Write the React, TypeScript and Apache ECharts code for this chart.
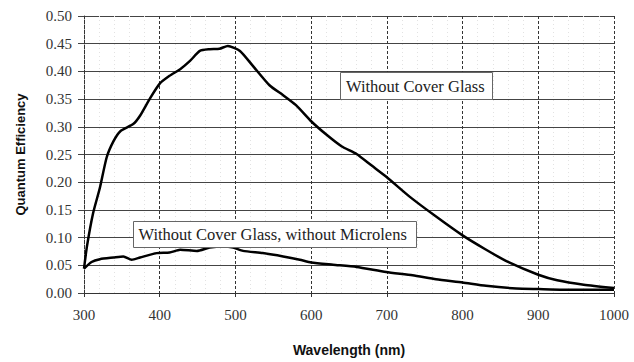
import React, { useEffect, useRef } from "react";
import * as echarts from "echarts";

const coverWavelengths = [300, 304, 312, 321, 330, 339, 348, 365, 374, 387, 400, 413, 427, 440, 453, 466, 479, 490, 506, 523, 545, 563, 580, 600, 620, 640, 660, 680, 700, 730, 765, 800, 830, 860, 900, 925, 960, 1000];
const coverValues = [0.044, 0.085, 0.144, 0.19, 0.245, 0.274, 0.292, 0.305, 0.32, 0.351, 0.378, 0.392, 0.404, 0.419, 0.437, 0.44, 0.441, 0.446, 0.437, 0.41, 0.375, 0.357, 0.339, 0.31, 0.286, 0.265, 0.251, 0.23, 0.209, 0.174, 0.138, 0.104, 0.079, 0.056, 0.033, 0.023, 0.015, 0.009];

const microWavelengths = [300, 310, 321, 339, 352, 363, 374, 396, 413, 427, 449, 466, 484, 497, 510, 536, 563, 585, 600, 629, 660, 699, 734, 765, 800, 831, 871, 900, 932, 1000];
const microValues = [0.044, 0.056, 0.061, 0.064, 0.066, 0.06, 0.064, 0.072, 0.073, 0.078, 0.076, 0.082, 0.084, 0.082, 0.076, 0.072, 0.066, 0.06, 0.055, 0.051, 0.047, 0.038, 0.032, 0.025, 0.019, 0.013, 0.008, 0.007, 0.006, 0.006];

const seriesNames = ["Without Cover Glass", "Without Cover Glass, without Microlens"];
const xTitle = "Wavelength (nm)";
const yTitle = "Quantum Efficiency";

export default function App() {
  const ref = useRef<HTMLDivElement>(null);
  useEffect(() => {
    if (!ref.current) return;
    const chart = echarts.init(ref.current, null, { renderer: "svg" });
    const serif = "Liberation Serif";
    const sans = "Liberation Sans";
    const tickRich = { t: { fontFamily: serif, fontSize: 15, color: "#333" } };
    chart.setOption({
      animation: false,
      backgroundColor: "#fff",
      grid: { left: 84, right: 20, top: 16, bottom: 64 },
      xAxis: {
        type: "value",
        min: 300,
        max: 1000,
        interval: 100,
        name: xTitle,
        nameLocation: "middle",
        nameGap: 50,
        nameTextStyle: { fontFamily: sans, fontWeight: "bold", fontSize: 14, color: "#111" },
        axisLine: { show: true, lineStyle: { color: "#333", width: 1 } },
        axisTick: { show: true, length: 5, lineStyle: { color: "#333", type: "dashed" } },
        axisLabel: {
          fontFamily: serif,
          fontSize: 15,
          color: "#333",
          margin: 14,
          rich: tickRich,
          formatter: (v: number) => "{t|" + String(v) + "}",
        },
        splitLine: { show: true, lineStyle: { color: "#333", type: [3, 2], width: 1 } },
        minorTick: { show: false, splitNumber: 5 },
        minorSplitLine: { show: true, lineStyle: { color: "#e2e2e2", type: [1, 3], width: 1 } },
      },
      yAxis: {
        type: "value",
        min: 0,
        max: 0.5,
        interval: 0.05,
        name: yTitle,
        nameLocation: "middle",
        nameGap: 57,
        nameTextStyle: { fontFamily: sans, fontWeight: "bold", fontSize: 13, color: "#111" },
        axisLine: { show: true, lineStyle: { color: "#333", type: [3, 2] } },
        axisTick: { show: true, length: 6, lineStyle: { color: "#444" } },
        axisLabel: {
          fontFamily: serif,
          fontSize: 15,
          color: "#333",
          margin: 12,
          rich: tickRich,
          formatter: (v: number) => "{t|" + v.toFixed(2) + "}",
        },
        splitLine: { show: true, lineStyle: { color: "#444", width: 1 } },
      },
      series: [
        {
          name: seriesNames[0],
          type: "line",
          data: coverWavelengths.map((w, i) => [w, coverValues[i]]),
          showSymbol: false,
          smooth: 0.2,
          lineStyle: { color: "#000", width: 2.5 },
        },
        {
          name: seriesNames[1],
          type: "line",
          data: microWavelengths.map((w, i) => [w, microValues[i]]),
          showSymbol: false,
          smooth: 0.2,
          lineStyle: { color: "#000", width: 2.5 },
        },
      ],
      graphic: [
        {
          type: "rect",
          shape: { x: 340.5, y: 72.5, width: 152, height: 27 },
          style: { fill: "#fff", stroke: "#666", lineWidth: 1 },
          z: 100,
        },
        {
          type: "text",
          x: 346,
          y: 86,
          style: {
            text: seriesNames[0],
            font: "16.5px 'Liberation Serif', 'Times New Roman', serif",
            fill: "#222",
            verticalAlign: "middle",
            align: "left",
          },
          z: 101,
        },
        {
          type: "rect",
          shape: { x: 133.5, y: 221.5, width: 283, height: 26 },
          style: { fill: "#fff", stroke: "#666", lineWidth: 1 },
          z: 100,
        },
        {
          type: "text",
          x: 138.5,
          y: 234.5,
          style: {
            text: seriesNames[1],
            font: "16.5px 'Liberation Serif', 'Times New Roman', serif",
            fill: "#222",
            verticalAlign: "middle",
            align: "left",
          },
          z: 101,
        },
      ],
    });
    return () => chart.dispose();
  }, []);
  return (
    <div
      ref={ref}
      style={{ position: "fixed", left: 0, top: 0, width: 634, height: 362, background: "#fff" }}
    />
  );
}
